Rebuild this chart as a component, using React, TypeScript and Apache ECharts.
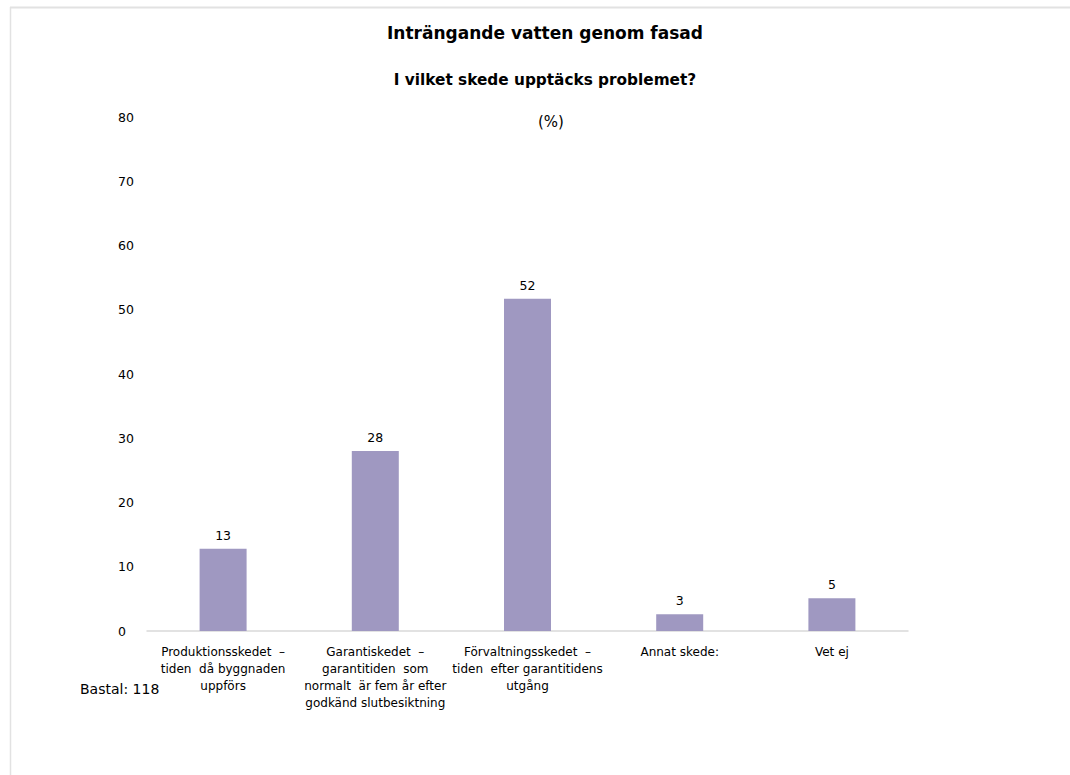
import React, { useEffect, useRef } from "react";
import * as echarts from "echarts";

const categories = [
  "Produktionsskedet  –\ntiden  då byggnaden\nuppförs",
  "Garantiskedet  –\ngarantitiden  som\nnormalt  är fem år efter\ngodkänd slutbesiktning",
  "Förvaltningsskedet  –\ntiden  efter garantitidens\nutgång",
  "Annat skede:",
  "Vet ej",
];
const values = [12.8, 28.0, 51.7, 2.6, 5.1];
const yTicks = { min: 0, max: 80, interval: 10 };
const titleText = "Inträngande vatten genom fasad";
const subtitleText = "I vilket skede upptäcks problemet?";
const unitText = "(%)";
const baseText = "Bastal: 118";

const FONT = "'DejaVu Sans', 'Liberation Sans', sans-serif";

export default function App() {
  const ref = useRef<HTMLDivElement>(null);
  useEffect(() => {
    if (!ref.current) return;
    const chart = echarts.init(ref.current, null, { renderer: "svg" });
    chart.setOption({
      animation: false,
      backgroundColor: "#ffffff",
      textStyle: { fontFamily: FONT },
      graphic: [
        {
          type: "line",
          shape: { x1: 10, y1: 7.5, x2: 1070, y2: 7.5 },
          style: { stroke: "#e2e2e2", lineWidth: 2 },
        },
        {
          type: "line",
          shape: { x1: 10.5, y1: 7, x2: 10.5, y2: 775 },
          style: { stroke: "#e2e2e2", lineWidth: 1.5 },
        },
        {
          type: "text",
          x: 545,
          y: 33,
          style: {
            text: titleText,
            fontFamily: FONT,
            fontSize: 17,
            fontWeight: "bold",
            fill: "#000000",
            align: "center",
            verticalAlign: "middle",
          },
        },
        {
          type: "text",
          x: 545,
          y: 80,
          style: {
            text: subtitleText,
            fontFamily: FONT,
            fontSize: 15.3,
            fontWeight: "bold",
            fill: "#000000",
            align: "center",
            verticalAlign: "middle",
          },
        },
        {
          type: "text",
          x: 551,
          y: 122,
          style: {
            text: unitText,
            fontFamily: FONT,
            fontSize: 15,
            fill: "#000000",
            align: "center",
            verticalAlign: "middle",
          },
        },
        {
          type: "text",
          x: 80,
          y: 689,
          style: {
            text: baseText,
            fontFamily: FONT,
            fontSize: 14,
            fill: "#000000",
            align: "left",
            verticalAlign: "middle",
          },
        },
      ],
      grid: { left: 147, right: 162, top: 117, bottom: 144, containLabel: false },
      xAxis: {
        type: "category",
        data: categories,
        axisLine: { show: true, lineStyle: { color: "#d9d9d9", width: 1.5 } },
        axisTick: { show: false },
        axisLabel: {
          interval: 0,
          margin: 12,
          fontFamily: FONT,
          fontSize: 12,
          lineHeight: 17,
          color: "#000000",
          align: "center",
        },
      },
      yAxis: {
        type: "value",
        min: yTicks.min,
        max: yTicks.max,
        interval: yTicks.interval,
        splitLine: { show: false },
        axisLine: { show: false },
        axisTick: { show: false },
        axisLabel: {
          margin: 29,
          align: "left",
          fontFamily: FONT,
          fontSize: 12.5,
          color: "#000000",
        },
      },
      series: [
        {
          type: "bar",
          data: values,
          barWidth: 47,
          itemStyle: { color: "#9f98c1" },
          label: {
            show: true,
            position: "top",
            distance: 7,
            fontFamily: FONT,
            fontSize: 12.5,
            color: "#000000",
            formatter: (p: any) => String(Math.round(p.value)),
          },
        },
      ],
    });
    return () => chart.dispose();
  }, []);
  return (
    <div
      ref={ref}
      style={{ position: "absolute", left: 0, top: 0, width: 1070, height: 775 }}
    />
  );
}
